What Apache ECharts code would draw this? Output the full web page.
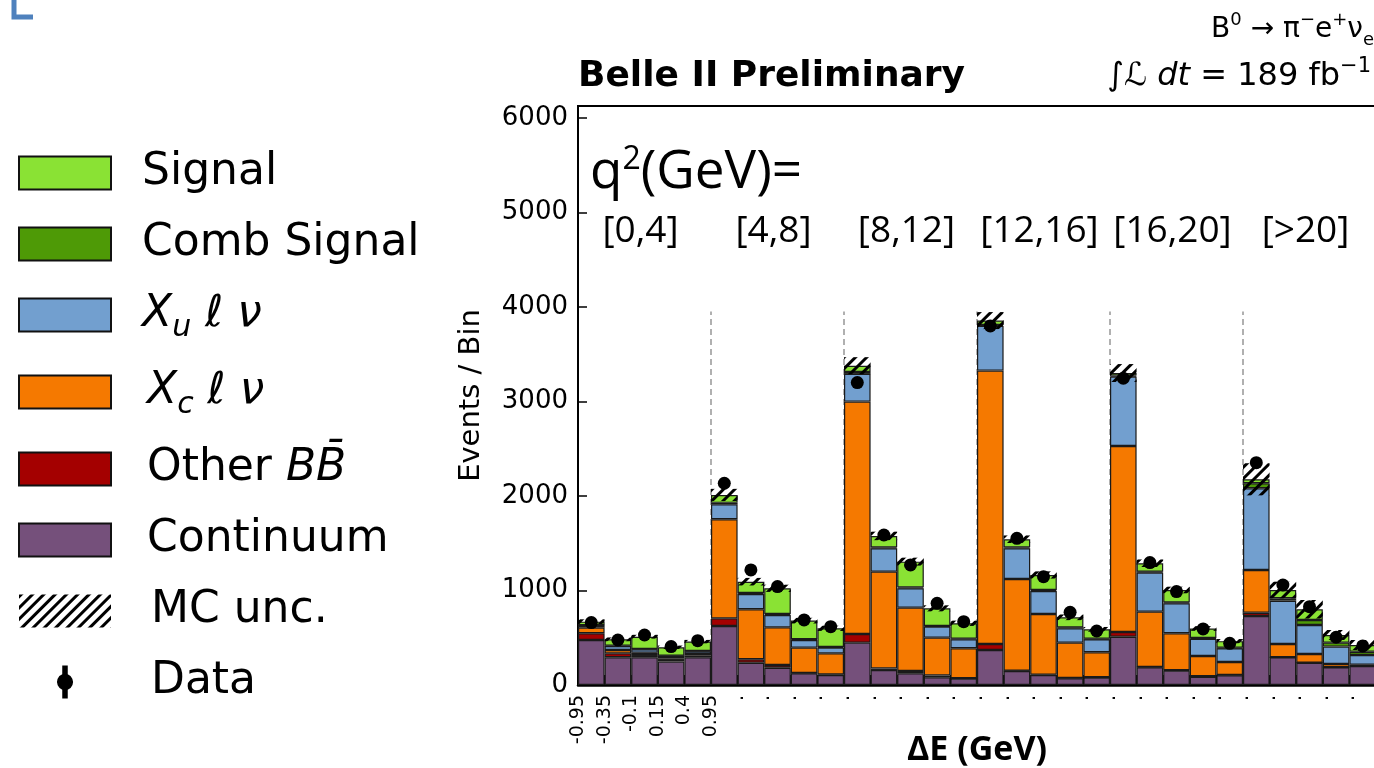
<!DOCTYPE html>
<html>
<head>
<meta charset="utf-8">
<script src="https://cdn.jsdelivr.net/npm/echarts@6/dist/echarts.min.js"></script>
<style>
html,body{margin:0;padding:0;background:#fff;}
#c{width:1374px;height:768px;}
</style>
</head>
<body>
<div id="c"></div>
<script>
// ---- data ----
const q2Bins = ['[0,4]', '[4,8]', '[8,12]', '[12,16]', '[16,20]', '[>20]'];
const deltaEBins = ['-0.95..-0.35', '-0.35..-0.1', '-0.1..0.15', '0.15..0.4', '0.4..0.95'];
const edgeTickLabels = ['-0.95', '-0.35', '-0.1', '0.15', '0.4', '0.95',
  '.', '.', '.', '.', '.', '.', '.', '.', '.', '.', '.', '.', '.', '.', '.', '.', '.', '.', '.', '.', '.', '.', '.', '.', '.'];
const categories = q2Bins.flatMap(q => deltaEBins.map(d => q + ' ' + d));

const continuum  = [476, 293, 293, 247, 293,  624, 236, 183, 123, 106,  448, 159, 123,  81,  67,  370, 148, 106,  71,  78,  511, 187, 152,  88, 102,  730, 293, 236, 187, 201];
const otherBB    = [ 71,  42,  24,  18,  17,   81,  36,  29,   5,   5,   92,  17,  25,  21,   4,   64,   4,   4,   4,   4,   50,   4,   4,   4,   3,   35,   0,   0,   0,   0];
const xcLnu      = [ 60,  35,  25,  17,  18, 1048, 529, 398, 267, 224, 2458,1023, 670, 399, 317, 2892, 970, 641, 373, 264, 1968, 585, 391, 215, 138,  452, 141,  92,  35,  14];
const xuLnu      = [ 21,  43,  35,  25,  28,  159, 162, 131,  81,  60,  293, 247, 205, 116,  95,  473, 324, 244, 152, 137,  734, 413, 317, 183, 145,  864, 458, 307, 184, 102];
const combSignal = [  4,   4,   4,   3,   3,   15,  10,  10,   8,   8,   20,  10,  10,   8,   8,   10,  10,  10,   8,   6,   10,  10,  10,   8,   6,   53,  25,  53,  42,  35];
const signal     = [ 38,  66, 130,  89, 100,   83, 120, 272, 197, 197,   67, 121, 272, 186, 162,   46,  86, 159, 108, 100,   27,  89, 131, 100,  70,   42,  88, 113,  81,  71];
const mcUnc      = [ 25,  20,  20,  18,  18,   65,  40,  38,  30,  28,   90,  45,  42,  32,  28,   90,  40,  38,  30,  25,   95,  40,  35,  25,  22,  170,  88,  98,  53,  53];
const dataCounts = [660, 476, 529, 406, 469, 2134,1217,1041, 688, 617, 3199,1587,1270, 864, 670, 3799,1552,1146, 769, 571, 3245,1295, 988, 593, 441, 2352,1058, 829, 505, 413];

// ---- derived ----
const totals = continuum.map((v, i) => v + otherBB[i] + xcLnu[i] + xuLnu[i] + combSignal[i] + signal[i]);
const uncBase = totals.map((t, i) => t - mcUnc[i]);
const uncBand = mcUnc.map(u => 2 * u);
const binsPerGroup = deltaEBins.length;
const groupEdges = q2Bins.slice(1).map((_, g) => (g + 1) * binsPerGroup);

const colors = {
  signal: '#8ae234', comb: '#4e9a06', xu: '#729fcf', xc: '#f57900', other: '#a40000', cont: '#75507b'
};
const FONT = 'DejaVu Sans';

function stackBar(name, data, color) {
  return {
    name: name, type: 'bar', stack: 'mc', data: data,
    xAxisIndex: 0, yAxisIndex: 0,
    barCategoryGap: '0%', barGap: '-100%',
    itemStyle: { color: color, borderColor: '#1a1a1a', borderWidth: 1.2 },
    emphasis: { disabled: true }, z: 2
  };
}

const legendText = {
  'Signal': '{sp1|}{n|Signal}',
  'Comb Signal': '{sp1|}{n|Comb Signal}',
  'Xu ℓ ν': '{sp1|}{it|X}{sub|u}{it| ℓ ν}',
  'Xc ℓ ν': '{sp2|}{it|X}{sub|c}{it| ℓ ν}',
  'Other BB̄': '{sp2|}{n|Other }{it|BB̄}',
  'Continuum': '{sp2|}{n|Continuum}',
  'MC unc.': '{sp3|}{n|MC unc.}',
  'Data': '{sp3|}{n|Data}'
};
const boxStyle = { borderColor: '#111', borderWidth: 2 };

const chart = echarts.init(document.getElementById('c'), null, { renderer: 'canvas' });

const option = {
  animation: false,
  backgroundColor: '#fff',
  grid: {
    left: 578, top: 106, right: -2, bottom: 83,
    outerBoundsMode: 'none', containLabel: false,
    show: true, borderColor: '#000', borderWidth: 2, backgroundColor: 'transparent'
  },
  legend: {
    orient: 'vertical', left: 13, top: 146,
    itemWidth: 92, itemHeight: 33, itemGap: 27,
    icon: 'rect',
    selectedMode: false,
    data: [
      { name: 'Signal', itemStyle: boxStyle },
      { name: 'Comb Signal', itemStyle: boxStyle },
      { name: 'Xu ℓ ν', itemStyle: boxStyle },
      { name: 'Xc ℓ ν', itemStyle: boxStyle },
      { name: 'Other BB̄', itemStyle: boxStyle },
      { name: 'Continuum', itemStyle: boxStyle },
      'MC unc.',
      { name: 'Data', icon: 'path://M4,0 H6 V3.2 A3,3 0 0 1 6,8.8 V12 H4 V8.8 A3,3 0 0 1 4,3.2 Z' }
    ],
    formatter: function (name) { return legendText[name] || name; },
    textStyle: {
      fontFamily: FONT, fontSize: 44, color: '#000',
      rich: {
        sp1: { width: 26, lineHeight: 56 },
        sp2: { width: 31, lineHeight: 56 },
        sp3: { width: 35, lineHeight: 56 },
        n: { fontFamily: FONT, fontSize: 44, color: '#000', lineHeight: 56 },
        it: { fontFamily: FONT, fontStyle: 'italic', fontSize: 44, color: '#000', lineHeight: 56 },
        sub: { fontFamily: FONT, fontStyle: 'italic', fontSize: 30, color: '#000', lineHeight: 56, verticalAlign: 'bottom' }
      }
    }
  },
  xAxis: [
    {
      type: 'category', data: categories, position: 'top', show: false,
      gridIndex: 0
    },
    {
      type: 'value', min: 0, max: categories.length, interval: 1, position: 'bottom', gridIndex: 0,
      axisLine: { show: true, lineStyle: { color: '#000', width: 2.5 } },
      axisTick: { show: true, inside: true, length: 10, lineStyle: { color: '#000', width: 2 } },
      splitLine: { show: false },
      axisLabel: {
        rotate: 90, margin: 10, fontFamily: FONT, fontSize: 19, color: '#000',
        showMinLabel: true, showMaxLabel: true,
        formatter: function (v) { return edgeTickLabels[Math.round(v)] || ''; }
      },
      name: 'ΔE (GeV)', nameLocation: 'middle', nameGap: 48, nameMoveOverlap: false,
      nameTextStyle: { fontFamily: 'Open Sans', fontWeight: 'bold', fontSize: 34, color: '#000' }
    }
  ],
  yAxis: [{
    type: 'value', min: 0, max: 6125, interval: 1000,
    axisLine: { show: true, lineStyle: { color: '#000', width: 2 } },
    axisTick: { show: true, inside: true, length: 9, lineStyle: { color: '#000', width: 1.5 } },
    splitLine: { show: false },
    axisLabel: {
      fontFamily: FONT, fontSize: 26, color: '#000', margin: 10,
      formatter: function (v) { return String(v); }
    },
    name: 'Events / Bin', nameLocation: 'middle', nameGap: 92, nameMoveOverlap: false,
    nameTextStyle: { fontFamily: FONT, fontSize: 29, color: '#000' }
  }],
  series: [
    stackBar('Continuum', continuum, colors.cont),
    stackBar('Other BB̄', otherBB, colors.other),
    stackBar('Xc ℓ ν', xcLnu, colors.xc),
    stackBar('Xu ℓ ν', xuLnu, colors.xu),
    stackBar('Comb Signal', combSignal, colors.comb),
    stackBar('Signal', signal, colors.signal),
    {
      name: 'uncBase', type: 'bar', stack: 'unc', data: uncBase,
      xAxisIndex: 0, yAxisIndex: 0, barCategoryGap: '0%', barGap: '-100%',
      itemStyle: { color: 'rgba(0,0,0,0)' }, silent: true, z: 3
    },
    {
      name: 'MC unc.', type: 'bar', stack: 'unc', data: uncBand,
      xAxisIndex: 0, yAxisIndex: 0, barCategoryGap: '0%', barGap: '-100%',
      itemStyle: {
        color: 'rgba(255,255,255,0)',
        decal: {
          symbol: 'rect', symbolSize: 1, color: '#000', backgroundColor: null,
          dashArrayX: [1, 0], dashArrayY: [3, 5], rotation: -Math.PI / 4
        }
      },
      silent: true, z: 3
    },
    {
      name: 'Data', type: 'scatter', data: dataCounts,
      xAxisIndex: 0, yAxisIndex: 0,
      symbol: 'circle', symbolSize: 13, symbolKeepAspect: true,
      itemStyle: { color: '#000', opacity: 1 }, z: 5
    },
    {
      name: 'separators', type: 'custom', xAxisIndex: 1, yAxisIndex: 0,
      data: groupEdges.map(e => [e, 3950]), silent: true, z: 1,
      renderItem: function (params, api) {
        const p0 = api.coord([api.value(0), 0]);
        const p1 = api.coord([api.value(0), api.value(1)]);
        return {
          type: 'line',
          shape: { x1: p0[0], y1: p0[1], x2: p1[0], y2: p1[1] },
          style: { stroke: '#b0b0b0', lineWidth: 2, lineDash: [6, 4] }
        };
      }
    }
  ]
};

chart.setOption(option);

// text annotations positioned through the axes
const graphics = [];
q2Bins.forEach((label, g) => {
  const p = chart.convertToPixel({ xAxisIndex: 1, yAxisIndex: 0 }, [g * binsPerGroup + binsPerGroup / 2, 4800]);
  graphics.push({
    type: 'text', x: p[0] - 4, y: p[1],
    style: { text: label, font: '37px "Open Sans"', fill: '#000', textAlign: 'center', textVerticalAlign: 'middle' }
  });
});
const pq = chart.convertToPixel({ xAxisIndex: 1, yAxisIndex: 0 }, [0.45, 5420]);
graphics.push({
  type: 'text', x: pq[0], y: pq[1],
  style: {
    text: '{a|q}{s|2}{a|(GeV)=}', textVerticalAlign: 'middle',
    rich: {
      a: { fontFamily: 'Open Sans', fontSize: 53, fill: '#000', lineHeight: 58 },
      s: { fontFamily: 'Open Sans', fontSize: 32, fill: '#000', lineHeight: 58, verticalAlign: 'top' }
    }
  }
});
graphics.push({
  type: 'text', x: 578, y: 77,
  style: { text: 'Belle II Preliminary', font: 'bold 36px "DejaVu Sans"', fill: '#000', textVerticalAlign: 'middle' }
});
graphics.push({
  type: 'text', x: 1371, y: 77,
  style: {
    text: '{n|∫}{i|ℒ dt}{n| = 189 fb}{s|−1}', textAlign: 'right', textVerticalAlign: 'middle',
    rich: {
      n: { fontFamily: FONT, fontSize: 32, fill: '#000', lineHeight: 42 },
      i: { fontFamily: FONT, fontStyle: 'italic', fontSize: 32, fill: '#000', lineHeight: 42 },
      s: { fontFamily: FONT, fontSize: 21, fill: '#000', lineHeight: 42, verticalAlign: 'top' }
    }
  }
});
graphics.push({
  type: 'text', x: 1374, y: 30,
  style: {
    text: '{n|B}{s|0}{n| → π}{s|−}{n|e}{s|+}{n|ν}{b|e}', textAlign: 'right', textVerticalAlign: 'middle',
    rich: {
      n: { fontFamily: FONT, fontSize: 28, fill: '#000', lineHeight: 38 },
      s: { fontFamily: FONT, fontSize: 18, fill: '#000', lineHeight: 38, verticalAlign: 'top' },
      b: { fontFamily: FONT, fontSize: 18, fill: '#000', lineHeight: 38, verticalAlign: 'bottom' }
    }
  }
});
graphics.push({
  type: 'polyline',
  shape: { points: [[14, -4], [14, 17], [33, 17]] },
  style: { stroke: '#4f81bd', lineWidth: 5, fill: null }
});
chart.setOption({ graphic: graphics });
</script>
</body>
</html>
